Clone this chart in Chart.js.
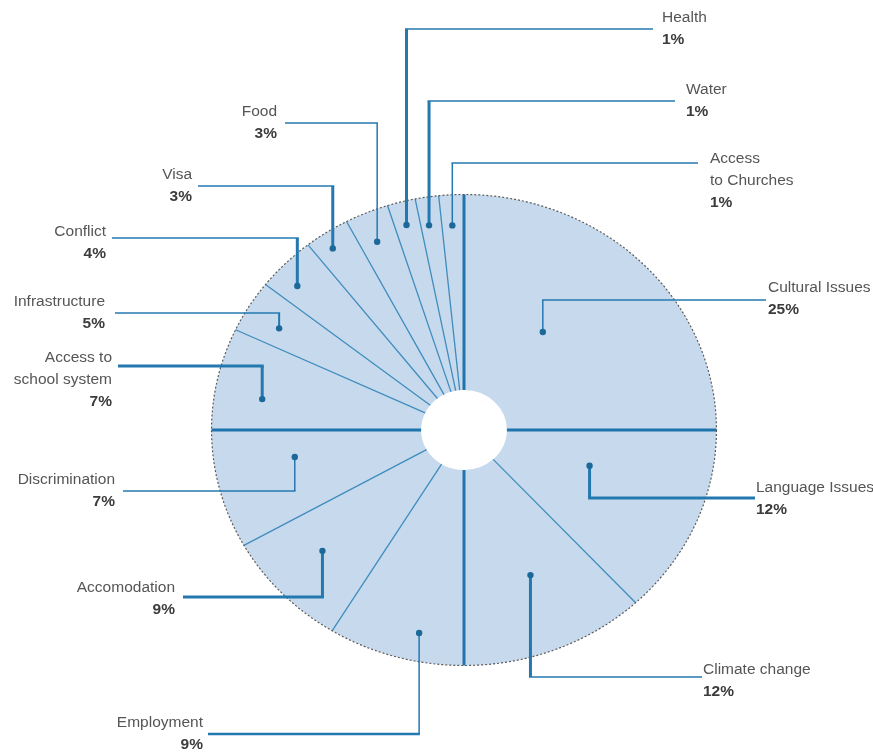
<!DOCTYPE html>
<html>
<head>
<meta charset="utf-8">
<script src="https://cdn.jsdelivr.net/npm/chart.js@4"></script>
<style>
  html, body { margin: 0; padding: 0; background: #fff; }
</style>
</head>
<body>
<canvas id="pie" width="873" height="753"></canvas>
<script>
const categories = ["Cultural Issues", "Language Issues", "Climate change", "Employment", "Accomodation",
  "Discrimination", "Access to school system", "Infrastructure", "Conflict", "Visa", "Food",
  "Health", "Water", "Access to Churches"];
// shares as printed next to each slice
const printedShares = [25, 12, 12, 9, 9, 7, 7, 5, 4, 3, 3, 1, 1, 1];
// slice sizes as drawn (read off the angles in the picture, they don't follow the printed numbers exactly)
const sliceSizes = [25, 13.1, 11.9, 8.75, 8.1, 8.15, 7, 3.6, 3.8, 2.9, 2.8, 1.8, 1.5, 1.6];

// callout layout: t = where across the slice the dot sits, r = fraction of radius,
// ly = height of the elbow, lx = end of the leader, tx/ty = text anchor, w = [vertical, horizontal] widths
const callouts = [
  { t: 0.41, r: 0.52, ly: 300, lx: 766, tx: 768, ty: 288, side: "right", w: [1.5, 1.5] },
  { t: 0.36, r: 0.52, ly: 498, lx: 755, tx: 756, ty: 488, side: "right", w: [3, 3] },
  { t: 0.46, r: 0.67, ly: 677, lx: 702, tx: 703, ty: 670, side: "right", w: [3, 1.5] },
  { t: 0.37, r: 0.88, ly: 734, lx: 208, tx: 203, ty: 723, side: "left", w: [1.5, 2.5] },
  { t: 0.55, r: 0.76, ly: 597, lx: 183, tx: 175, ty: 588, side: "left", w: [3, 3] },
  { t: 0.67, r: 0.68, ly: 491, lx: 123, tx: 115, ty: 480, side: "left", w: [1.5, 1.5] },
  { t: 0.37, r: 0.81, ly: 366, lx: 118, tx: 112, ty: 358, side: "left", w: [3, 3], lines: ["Access to", "school system"] },
  { t: 0.41, r: 0.85, ly: 313, lx: 115, tx: 105, ty: 302, side: "left", w: [2, 1.5] },
  { t: 0.34, r: 0.90, ly: 238, lx: 112, tx: 106, ty: 232, side: "left", w: [3, 1.5] },
  { t: 0.40, r: 0.93, ly: 186, lx: 198, tx: 192, ty: 175, side: "left", w: [3, 1.5] },
  { t: 0.44, r: 0.87, ly: 123, lx: 285, tx: 277, ty: 112, side: "left", w: [1.5, 1.5] },
  { t: 0.46, r: 0.90, ly: 29, lx: 653, tx: 662, ty: 18, side: "right", w: [3, 1.5] },
  { t: 0.39, r: 0.88, ly: 101, lx: 675, tx: 686, ty: 90, side: "right", w: [3, 1.5] },
  { t: 0.47, r: 0.87, ly: 163, lx: 698, tx: 710, ty: 159, side: "right", w: [1.5, 1.5], lines: ["Access", "to Churches"] }
];

const SX = 1.072;        // the pie in the picture is a bit wider than tall
const lineBlue = "#2478b0";
const LINE_H = 22;

const pt = (arc, a, rad) => [arc.x + Math.cos(a) * rad * SX, arc.y + Math.sin(a) * rad];

const stretchAndDecorate = {
  id: "stretchAndDecorate",
  beforeDatasetsDraw(chart) {
    const arc = chart.getDatasetMeta(0).data[0];
    const ctx = chart.ctx;
    ctx.save();
    ctx.translate(arc.x, arc.y);
    ctx.scale(SX, 1);
    ctx.translate(-arc.x, -arc.y);
  },
  afterDatasetsDraw(chart) {
    const ctx = chart.ctx;
    ctx.restore();
    const arcs = chart.getDatasetMeta(0).data;
    const first = arcs[0];

    // slice separators, thick on the quarter lines
    arcs.forEach((arc) => {
      const a = arc.startAngle;
      const q = (a + Math.PI / 2) / (Math.PI / 2);
      const thick = Math.abs(q - Math.round(q)) < 0.01;
      const [x0, y0] = pt(arc, a, arc.innerRadius);
      const [x1, y1] = pt(arc, a, arc.outerRadius);
      ctx.beginPath();
      ctx.moveTo(x0, y0);
      ctx.lineTo(x1, y1);
      ctx.lineWidth = thick ? 3 : 1.3;
      ctx.strokeStyle = thick ? "#1f74ae" : "#3f8cbd";
      ctx.stroke();
    });

    // dashed rim
    ctx.save();
    ctx.setLineDash([2, 2]);
    ctx.beginPath();
    ctx.ellipse(first.x, first.y, first.outerRadius * SX, first.outerRadius, 0, 0, Math.PI * 2);
    ctx.lineWidth = 1.2;
    ctx.strokeStyle = "#5a5a5a";
    ctx.stroke();
    ctx.restore();

    // callouts
    arcs.forEach((arc, i) => {
      const c = callouts[i];
      const a = arc.startAngle + c.t * (arc.endAngle - arc.startAngle);
      const [dx, dy] = pt(arc, a, c.r * arc.outerRadius);
      ctx.strokeStyle = lineBlue;
      ctx.lineCap = "butt";
      ctx.beginPath();
      ctx.moveTo(dx, dy);
      ctx.lineTo(dx, c.ly);
      ctx.lineWidth = c.w[0];
      ctx.stroke();
      ctx.beginPath();
      ctx.moveTo(dx + (c.side === "right" ? -c.w[0] / 2 : c.w[0] / 2), c.ly);
      ctx.lineTo(c.lx, c.ly);
      ctx.lineWidth = c.w[1];
      ctx.stroke();
      ctx.beginPath();
      ctx.arc(dx, dy, 3.2, 0, Math.PI * 2);
      ctx.fillStyle = "#1b6899";
      ctx.fill();

      const lines = c.lines || [categories[i]];
      ctx.textAlign = c.side === "right" ? "left" : "right";
      ctx.textBaseline = "middle";
      ctx.font = '15.5px "Liberation Sans"';
      ctx.fillStyle = "#555";
      lines.forEach((s, k) => ctx.fillText(s, c.tx, c.ty + k * LINE_H));
      ctx.font = 'bold 15.5px "Liberation Sans"';
      ctx.fillStyle = "#3c3c3c";
      ctx.fillText(printedShares[i] + "%", c.tx, c.ty + lines.length * LINE_H);
    });
  }
};

new Chart(document.getElementById("pie"), {
  type: "doughnut",
  data: {
    labels: categories,
    datasets: [{
      data: sliceSizes,
      backgroundColor: "#c7daed",
      borderWidth: 0,
      hoverBorderWidth: 0,
      hoverOffset: 0
    }]
  },
  options: {
    responsive: false,
    animation: false,
    events: [],
    cutout: "17%",
    layout: { padding: { top: 194.5, bottom: 87.5, left: 200, right: 145 } },
    plugins: { legend: { display: false }, tooltip: { enabled: false } }
  },
  plugins: [stretchAndDecorate]
});
</script>
</body>
</html>
